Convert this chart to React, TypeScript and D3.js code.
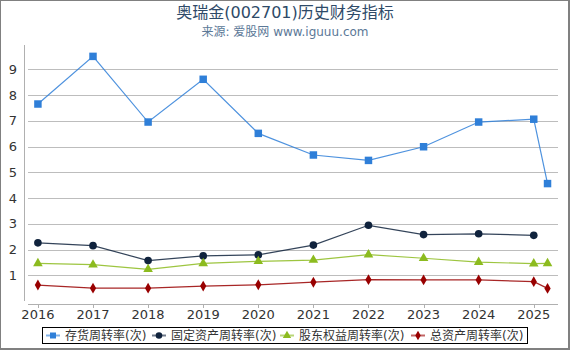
import React, { useEffect, useRef } from 'react';
import * as d3 from 'd3';

// periods (last one is the 2025 quarterly report)
const periods = [2016, 2017, 2018, 2019, 2020, 2021, 2022, 2023, 2024, 2025, 2025.25];
const tickYears = [2016, 2017, 2018, 2019, 2020, 2021, 2022, 2023, 2024, 2025];
const yTicks = [1, 2, 3, 4, 5, 6, 7, 8, 9];

const inventoryTurnover = [7.65, 9.5, 6.95, 8.61, 6.51, 5.67, 5.46, 5.99, 6.95, 7.06, 4.56];
const fixedAssetTurnover = [2.26, 2.15, 1.57, 1.75, 1.79, 2.17, 2.94, 2.58, 2.61, 2.55, null];
const equityTurnover = [1.46, 1.41, 1.23, 1.46, 1.54, 1.59, 1.8, 1.66, 1.51, 1.45, 1.46];
const totalAssetTurnover = [0.62, 0.5, 0.5, 0.58, 0.63, 0.73, 0.83, 0.82, 0.82, 0.75, 0.49];

const seriesNames = ['存货周转率(次)', '固定资产周转率(次)', '股东权益周转率(次)', '总资产周转率(次)'];
const seriesColors = ['#2f7fd8', '#10233d', '#8cbb1f', '#990000'];

const FONT = '"DejaVu Sans", "Noto Sans CJK SC", sans-serif';

export default function App() {
  const ref = useRef<SVGSVGElement>(null);

  useEffect(() => {
    const svg = d3.select(ref.current);
    svg.selectAll('*').remove();

    const W = 570, H = 350;
    const x = d3.scaleLinear().domain([2015.82, 2025.44]).range([28, 558]);
    const y = d3.scaleLinear().domain([0, 10]).range([301, 43.5]);

    svg.append('rect').attr('width', W).attr('height', H).attr('fill', '#fff');

    // frame
    svg.append('rect').attr('x', 0).attr('y', 0).attr('width', W).attr('height', 1).attr('fill', '#808080');
    svg.append('rect').attr('x', 0).attr('y', 0).attr('width', 1).attr('height', H).attr('fill', '#808080');
    svg.append('rect').attr('x', W - 2).attr('y', 0).attr('width', 2).attr('height', H).attr('fill', '#808080');
    svg.append('rect').attr('x', 0).attr('y', H - 2).attr('width', W).attr('height', 2).attr('fill', '#808080');

    // title
    svg.append('text')
      .attr('x', 285).attr('y', 18)
      .attr('text-anchor', 'middle')
      .style('font-family', FONT).style('font-size', '16px')
      .attr('fill', '#2e4a68')
      .text('奥瑞金(002701)历史财务指标');
    svg.append('text')
      .attr('x', 285).attr('y', 36)
      .attr('text-anchor', 'middle')
      .style('font-family', FONT).style('font-size', '12px')
      .attr('fill', '#5b7897')
      .text('来源: 爱股网 www.iguuu.com');

    // grid
    svg.append('g').selectAll('line').data(yTicks).enter().append('line')
      .attr('x1', 28).attr('x2', 558)
      .attr('y1', d => Math.round(y(d)) + 0.5).attr('y2', d => Math.round(y(d)) + 0.5)
      .attr('stroke', '#bdbdbd').attr('stroke-width', 1);

    svg.append('g').selectAll('text').data(yTicks).enter().append('text')
      .attr('x', 17).attr('y', d => y(d) + 4.5)
      .attr('text-anchor', 'end')
      .style('font-family', FONT).style('font-size', '13px')
      .attr('fill', '#333')
      .text(d => d);

    // axes
    svg.append('line').attr('x1', 24.5).attr('x2', 24.5).attr('y1', 45).attr('y2', 301)
      .attr('stroke', '#b0b0b0');
    svg.append('line').attr('x1', 28).attr('x2', 558).attr('y1', 304.5).attr('y2', 304.5)
      .attr('stroke', '#b0b0b0');
    svg.append('g').selectAll('line').data(tickYears).enter().append('line')
      .attr('x1', d => Math.round(x(d)) + 0.5).attr('x2', d => Math.round(x(d)) + 0.5)
      .attr('y1', 304).attr('y2', 308)
      .attr('stroke', '#b0b0b0');
    svg.append('g').selectAll('text').data(tickYears).enter().append('text')
      .attr('x', d => x(d)).attr('y', 319)
      .attr('text-anchor', 'middle')
      .style('font-family', FONT).style('font-size', '13px')
      .attr('fill', '#333')
      .text(d => d);

    const allSeries = [inventoryTurnover, fixedAssetTurnover, equityTurnover, totalAssetTurnover];
    const symbols = [
      d3.symbol().type(d3.symbolSquare).size(56),
      d3.symbol().type(d3.symbolCircle).size(46),
      d3.symbol().type(d3.symbolTriangle).size(40),
      d3.symbol().type(d3.symbolDiamond).size(34),
    ];

    allSeries.forEach((vals, i) => {
      const pts = periods.map((p, k) => ({ p, v: vals[k] })).filter(d => d.v != null) as { p: number; v: number }[];
      const line = d3.line<{ p: number; v: number }>().x(d => x(d.p)).y(d => y(d.v));
      svg.append('path')
        .attr('d', line(pts))
        .attr('fill', 'none')
        .attr('stroke', seriesColors[i])
        .attr('stroke-opacity', 0.85)
        .attr('stroke-width', 1.2);
      svg.append('g').selectAll('path').data(pts).enter().append('path')
        .attr('transform', d => `translate(${x(d.p)},${y(d.v)})`)
        .attr('d', symbols[i]() as string)
        .attr('fill', seriesColors[i]);
    });

    // legend
    svg.append('rect')
      .attr('x', 42.5).attr('y', 327.5).attr('width', 485).attr('height', 16)
      .attr('fill', '#fff').attr('stroke', '#000');

    const legendX = [46, 152, 280, 411];
    const legendSymbols = [
      d3.symbol().type(d3.symbolSquare).size(36),
      d3.symbol().type(d3.symbolCircle).size(34),
      d3.symbol().type(d3.symbolTriangle).size(30),
      d3.symbol().type(d3.symbolDiamond).size(26),
    ];
    seriesNames.forEach((name, i) => {
      const g = svg.append('g').attr('transform', `translate(${legendX[i]},335.5)`);
      g.append('line').attr('x1', 0).attr('x2', 14).attr('y1', 0).attr('y2', 0)
        .attr('stroke', seriesColors[i]).attr('stroke-opacity', 0.6).attr('stroke-width', 2);
      g.append('path').attr('transform', 'translate(7,0)')
        .attr('d', legendSymbols[i]() as string).attr('fill', seriesColors[i]);
      g.append('text')
        .attr('x', 19).attr('y', 4.5)
        .style('font-family', FONT).style('font-size', '12px')
        .attr('fill', '#333')
        .text(name);
    });
  }, []);

  return <svg ref={ref} width={570} height={350} style={{ position: 'absolute', left: 0, top: 0 }} />;
}
